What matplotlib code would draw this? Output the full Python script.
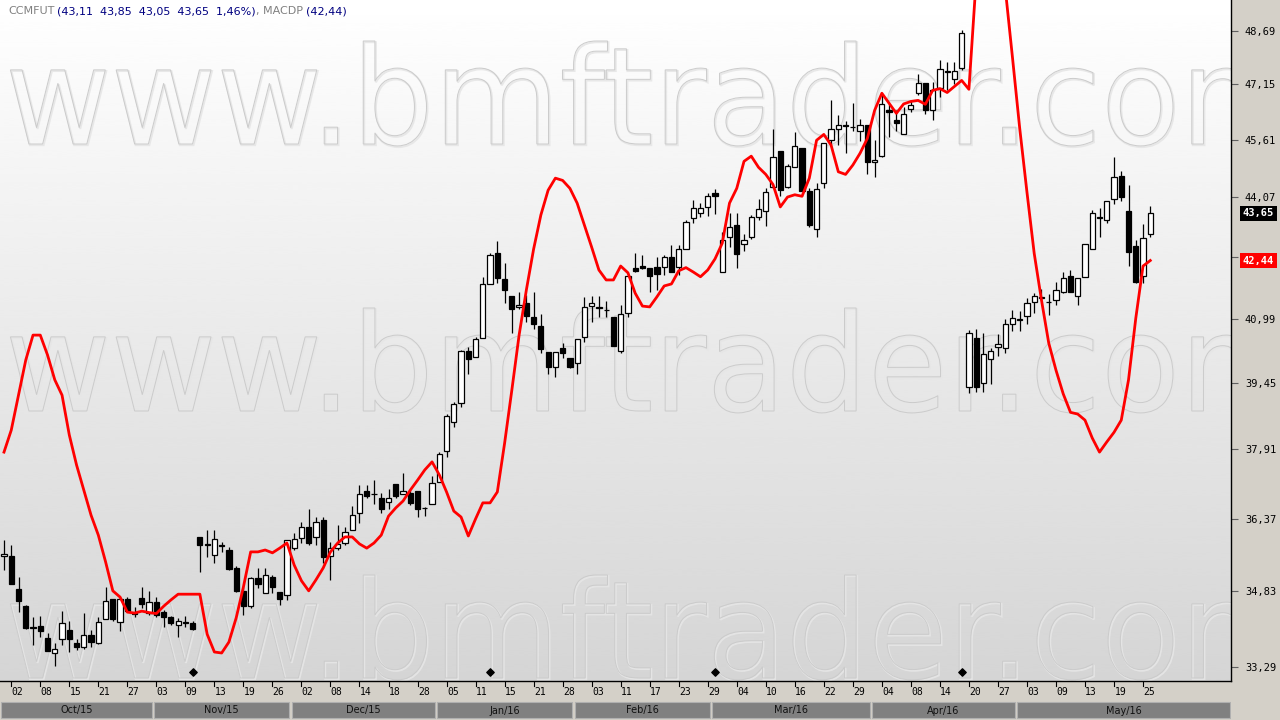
import numpy as np
import matplotlib
matplotlib.use('Agg')
import matplotlib.pyplot as plt
from matplotlib.patches import PathPatch, Rectangle
from matplotlib.textpath import TextPath
from matplotlib.font_manager import FontProperties
from matplotlib.transforms import Affine2D, blended_transform_factory
from matplotlib.ticker import NullLocator, NullFormatter

# ---- data (daily bars, Oct/15 .. May/16) ----
opens = [35.58, 35.57, 34.88, 34.52, 34.10, 34.11, 33.87, 33.56, 33.85, 34.04,
         33.77, 33.69, 33.93, 33.77, 34.26, 34.67, 34.19, 34.67, 34.38, 34.69,
         34.39, 34.61, 34.40, 34.30, 34.14, 34.19, 34.18, 35.97, 35.82, 35.59,
         35.80, 35.71, 35.31, 34.83, 34.52, 35.10, 34.79, 35.13, 34.82, 34.75,
         35.74, 35.95, 36.20, 35.97, 36.35, 35.58, 35.75, 35.84, 36.14, 36.49,
         36.98, 36.92, 36.82, 36.73, 37.13, 36.91, 36.93, 36.98, 36.61, 36.69,
         37.17, 37.87, 38.54, 38.97, 40.21, 40.06, 40.51, 41.85, 42.62, 41.98,
         41.55, 41.27, 41.37, 41.02, 40.82, 40.18, 39.83, 40.27, 40.04, 39.91,
         40.55, 41.29, 41.27, 41.21, 41.03, 40.21, 41.12, 42.24, 42.30, 42.24,
         42.27, 42.27, 42.52, 42.28, 42.74, 43.52, 43.65, 43.81, 44.19, 42.16,
         43.05, 43.35, 42.85, 43.04, 43.55, 43.71, 44.35, 45.30, 44.35, 44.87,
         45.40, 44.24, 43.24, 44.44, 45.62, 45.92, 46.03, 45.97, 45.85, 46.03,
         45.00, 45.17, 46.44, 46.15, 45.78, 46.47, 46.92, 47.19, 46.42, 47.05,
         47.53, 47.31, 47.62, 39.35, 40.51, 39.45, 40.01, 40.30, 40.27, 40.86,
         40.98, 41.05, 41.39, 41.52, 41.41, 41.44, 41.66, 42.04, 41.56, 42.03,
         42.74, 43.55, 43.48, 44.03, 44.63, 43.71, 42.80, 42.05, 43.11]
highs = [35.91, 35.80, 35.13, 34.54, 34.30, 34.32, 33.97, 33.77, 34.42, 34.21,
         33.85, 34.38, 34.03, 34.30, 34.92, 34.67, 34.71, 34.71, 34.51, 34.92,
         34.83, 34.72, 34.44, 34.31, 34.28, 34.32, 34.21, 35.97, 36.13, 36.13,
         35.87, 35.77, 35.36, 34.93, 35.12, 35.31, 35.31, 35.17, 34.82, 35.91,
         36.06, 36.31, 36.59, 36.41, 36.42, 35.88, 36.23, 36.19, 36.66, 37.11,
         37.11, 37.22, 36.93, 37.02, 37.13, 37.39, 37.00, 36.98, 36.62, 37.31,
         37.85, 38.73, 39.00, 40.23, 40.31, 40.55, 42.03, 42.62, 42.93, 42.37,
         41.55, 41.65, 41.58, 41.65, 41.10, 40.18, 40.18, 40.39, 40.04, 40.49,
         41.53, 41.55, 41.55, 41.43, 41.03, 41.32, 42.05, 42.64, 42.58, 42.24,
         42.53, 42.58, 42.83, 42.83, 43.48, 44.00, 43.93, 44.19, 44.28, 43.18,
         43.66, 43.67, 43.13, 43.61, 44.02, 44.33, 45.92, 45.30, 44.97, 45.83,
         45.40, 44.33, 44.44, 45.52, 46.70, 46.29, 46.12, 46.62, 46.17, 46.03,
         45.62, 46.84, 46.61, 46.44, 46.52, 46.70, 47.43, 47.19, 47.21, 47.83,
         47.78, 47.78, 48.70, 40.71, 40.75, 40.63, 40.27, 40.62, 40.98, 41.20,
         41.18, 41.50, 41.62, 41.72, 41.60, 41.91, 42.16, 42.20, 42.00, 42.87,
         43.74, 43.78, 43.98, 45.15, 44.77, 44.39, 42.96, 43.38, 43.85]
lows = [35.28, 34.99, 34.40, 34.05, 33.73, 33.89, 33.60, 33.31, 33.73, 33.58,
        33.64, 33.66, 33.70, 33.76, 34.25, 34.22, 34.02, 34.40, 34.30, 34.49,
        34.34, 34.30, 34.09, 34.13, 33.89, 34.09, 34.03, 35.24, 35.56, 35.43,
        35.66, 35.28, 34.82, 34.34, 34.48, 34.89, 34.79, 34.79, 34.55, 34.65,
        35.69, 35.84, 35.80, 35.80, 35.43, 35.07, 35.70, 35.80, 36.14, 36.28,
        36.83, 36.69, 36.49, 36.59, 36.82, 36.91, 36.68, 36.42, 36.44, 36.69,
        37.17, 37.75, 38.43, 38.89, 39.66, 40.06, 40.51, 41.85, 41.87, 41.37,
        40.64, 41.24, 40.92, 40.73, 40.15, 39.66, 39.58, 40.03, 39.79, 39.66,
        40.43, 40.90, 41.03, 41.02, 40.33, 40.15, 41.04, 42.16, 42.22, 41.66,
        41.70, 42.07, 42.16, 42.07, 42.74, 43.39, 43.55, 43.59, 43.63, 42.16,
        42.79, 42.26, 42.68, 42.98, 43.48, 43.32, 44.31, 44.10, 44.33, 44.87,
        44.24, 43.31, 43.05, 44.31, 45.50, 45.47, 45.26, 45.85, 45.58, 44.70,
        44.61, 45.15, 45.70, 45.85, 45.76, 46.38, 46.84, 46.31, 46.15, 46.79,
        46.98, 47.17, 47.55, 39.20, 39.24, 39.24, 39.43, 40.08, 40.15, 40.70,
        40.70, 40.86, 41.14, 41.44, 41.08, 41.32, 41.62, 41.66, 41.32, 42.03,
        42.72, 43.05, 43.41, 43.91, 43.98, 42.30, 41.87, 41.87, 43.05]
closes = [35.62, 34.99, 34.63, 34.07, 34.08, 34.01, 33.61, 33.66, 34.17, 33.85,
          33.70, 33.93, 33.80, 34.19, 34.63, 34.26, 34.67, 34.42, 34.37, 34.56,
          34.61, 34.34, 34.29, 34.17, 34.21, 34.18, 34.05, 35.80, 35.81, 35.93,
          35.79, 35.29, 34.83, 34.52, 35.10, 34.98, 35.17, 34.93, 34.67, 35.91,
          35.93, 36.20, 35.84, 36.30, 35.56, 35.74, 35.82, 36.08, 36.46, 36.92,
          36.88, 36.91, 36.59, 36.82, 36.86, 36.98, 36.72, 36.59, 36.60, 37.15,
          37.80, 38.67, 38.95, 40.21, 40.01, 40.49, 41.85, 42.57, 42.01, 41.71,
          41.23, 41.32, 41.05, 40.85, 40.25, 39.83, 40.18, 40.15, 39.83, 40.49,
          41.27, 41.37, 41.26, 41.20, 40.33, 41.10, 42.05, 42.18, 42.26, 42.06,
          42.11, 42.52, 42.16, 42.72, 43.44, 43.78, 43.78, 44.10, 44.11, 42.96,
          43.31, 42.61, 42.96, 43.57, 43.76, 44.20, 45.15, 44.26, 44.90, 45.44,
          44.24, 43.35, 44.28, 45.52, 45.92, 46.03, 45.98, 45.96, 46.03, 45.02,
          45.06, 46.59, 46.37, 46.06, 46.33, 46.58, 47.19, 46.44, 46.98, 47.59,
          47.51, 47.53, 48.62, 40.65, 39.36, 40.13, 40.21, 40.37, 40.87, 41.00,
          40.97, 41.37, 41.55, 41.51, 41.40, 41.70, 42.00, 41.66, 42.00, 42.87,
          43.65, 43.54, 43.98, 44.61, 44.09, 42.66, 41.90, 43.02, 43.65]
macdp = [37.85, 38.35, 39.16, 39.99, 40.59, 40.59, 40.11, 39.52, 39.16, 38.24,
         37.56, 37.00, 36.45, 36.02, 35.45, 34.84, 34.71, 34.40, 34.38, 34.42,
         34.39, 34.37, 34.52, 34.65, 34.77, 34.77, 34.77, 34.77, 33.95, 33.59,
         33.57, 33.79, 34.28, 34.92, 35.66, 35.66, 35.70, 35.64, 35.74, 35.85,
         35.38, 35.05, 34.84, 35.07, 35.32, 35.66, 35.85, 35.98, 35.98, 35.83,
         35.74, 35.85, 36.02, 36.43, 36.61, 36.76, 37.00, 37.22, 37.45, 37.63,
         37.34, 36.96, 36.54, 36.41, 36.00, 36.37, 36.72, 36.72, 36.96, 38.05,
         39.28, 40.59, 41.70, 42.73, 43.61, 44.26, 44.58, 44.52, 44.31, 43.92,
         43.35, 42.78, 42.20, 41.95, 41.95, 42.30, 42.13, 41.62, 41.30, 41.28,
         41.53, 41.80, 41.85, 42.18, 42.26, 42.15, 42.03, 42.20, 42.48, 42.88,
         43.92, 44.31, 45.03, 45.17, 44.87, 44.68, 44.41, 43.82, 44.08, 44.14,
         44.10, 44.58, 45.60, 45.76, 45.47, 44.75, 44.68, 44.93, 45.25, 45.65,
         46.42, 46.90, 46.62, 46.34, 46.60, 46.67, 46.70, 46.59, 46.98, 47.03,
         46.92, 47.09, 47.26, 47.01, 50.20, 51.50, 51.90, 51.20, 49.95, 47.92,
         45.93, 44.21, 42.62, 41.45, 40.40, 39.75, 39.19, 38.76, 38.72, 38.58,
         38.17, 37.85, 38.08, 38.30, 38.58, 39.52, 41.00, 42.30, 42.44]

day_labels = ['02', '08', '15', '21', '27', '03', '09', '13', '19', '26',
              '02', '08', '14', '18', '28', '05', '11', '15', '21', '28',
              '03', '11', '17', '23', '29', '04', '10', '16', '22', '29',
              '04', '08', '14', '20', '27', '03', '09', '13', '19', '25']
month_names = ['Oct/15', 'Nov/15', 'Dec/15', 'Jan/16', 'Feb/16', 'Mar/16', 'Apr/16', 'May/16']
month_start = [0, 21, 40, 60, 79, 98, 120, 140]   # first bar of each month
marker_bars = [26, 67, 98, 132]                    # black diamonds
y_ticks = [33.29, 34.83, 36.37, 37.91, 39.45, 40.99, 42.53, 44.07, 45.61, 47.15, 48.69]


def br(v):
    return f'{v:.2f}'.replace('.', ',')


W, H = 1280, 720
PLOT_R, PLOT_B = 1231, 681
X0, DX = 4.0, 7.255
xmin = (0 - X0) / DX
xmax = (PLOT_R - X0) / DX
PANEL = '#d4d0c8'

fig = plt.figure(figsize=(W / 100, H / 100), dpi=100)
fig.patch.set_facecolor(PANEL)
rect = [0, 1 - PLOT_B / H, PLOT_R / W, PLOT_B / H]

# background: gradient + watermark, in pixel coords
bg = fig.add_axes(rect, zorder=0)
grad = np.linspace(1.0, 0.835, 256)[:, None]
bg.imshow(grad, cmap='gray', vmin=0, vmax=1, extent=[0, PLOT_R, PLOT_B, 0],
          aspect='auto', interpolation='bicubic')
bg.set_xlim(0, PLOT_R)
bg.set_ylim(PLOT_B, 0)
bg.axis('off')

fp = FontProperties(family='DejaVu Sans')
tp = TextPath((0, 0), 'www.bmftrader.com', size=100, prop=fp)
v = tp.vertices
wx0, wx1 = v[:, 0].min(), v[:, 0].max()
sx = 1290 / (wx1 - wx0)
sy = 103 / v[:, 1].max()
for base in (144, 411, 678):
    tr = Affine2D().translate(-wx0, 0).scale(sx, -sy).translate(6, base + 1.2)
    bg.add_patch(PathPatch(tr.transform_path(tp), facecolor='none',
                           edgecolor='#e6e6e6', lw=1.4, alpha=0.9, transform=bg.transData))
    tr2 = Affine2D().translate(-wx0, 0).scale(sx, -sy).translate(5, base)
    bg.add_patch(PathPatch(tr2.transform_path(tp), facecolor='none',
                           edgecolor='#cbcbcb', lw=0.7, transform=bg.transData))

# main price axes
ax = fig.add_axes(rect, zorder=1)
ax.patch.set_alpha(0)
ax.set_yscale('log')

o = np.array(opens)
h = np.array(highs)
l = np.array(lows)
c = np.array(closes)
idx = np.arange(len(o))
up = c >= o

ax.vlines(idx, l, h, color='black', lw=0.9, zorder=2)
ax.bar(idx[up], np.maximum(c - o, 0.004)[up], bottom=o[up], width=0.72,
       facecolor='white', edgecolor='black', lw=0.9, zorder=3)
ax.bar(idx[~up], (o - c)[~up], bottom=c[~up], width=0.72,
       facecolor='black', edgecolor='black', lw=0.9, zorder=3)

ax.plot(idx, macdp, color='#ff0000', lw=2.0, zorder=4)

ax.scatter(marker_bars, [0.013] * len(marker_bars), marker='D', s=14, color='black',
           transform=blended_transform_factory(ax.transData, ax.transAxes), zorder=5,
           clip_on=False)

ax.set_xlim(xmin, xmax)
ax.set_ylim(33.013, 49.586)
ax.set_xticks([])

for s in ('top', 'left'):
    ax.spines[s].set_visible(False)
for s in ('right', 'bottom'):
    ax.spines[s].set_color('black')
    ax.spines[s].set_linewidth(1.0)

ax.yaxis.tick_right()
ax.set_yticks(y_ticks)
ax.set_yticklabels([br(t) for t in y_ticks])
ax.yaxis.set_minor_locator(NullLocator())
ax.yaxis.set_minor_formatter(NullFormatter())
ax.tick_params(axis='y', direction='out', length=5, width=0.8, color='#606060',
               pad=5, labelsize=7.5)
for t in ax.get_yticklabels():
    t.set_family('DejaVu Sans Mono')

# last value tags (drawn over the tick labels, as in the original)
bt = blended_transform_factory(ax.transAxes, ax.transData)
for val, col in ((closes[-1], 'black'), (macdp[-1], '#ff0000')):
    ax.text(1243 / PLOT_R, val, br(val), transform=bt, ha='left', va='center',
            color='white', fontsize=7.5, weight='bold', family='DejaVu Sans Mono',
            zorder=10, clip_on=False,
            bbox=dict(boxstyle='square,pad=0.25', fc=col, ec='none'))

# bottom strip: day ticks and month bar (y in pixel rows)
bx = fig.add_axes([0, 0, PLOT_R / W, 1 - PLOT_B / H], zorder=1)
bx.set_xlim(xmin, xmax)
bx.set_ylim(H, PLOT_B)
bx.axis('off')
ticks = np.arange(1, len(o), 4)[:len(day_labels)]
for t, lab in zip(ticks, day_labels):
    bx.plot([t, t], [PLOT_B, PLOT_B + 4.5], color='black', lw=0.8)
    bx.text(t + 0.05, 692, lab, ha='left', va='center', fontsize=7,
            family='DejaVu Sans Mono', color='black')
edges = [xmin] + [m - 0.5 for m in month_start[1:]] + [xmax]
for i, name in enumerate(month_names):
    a, b = edges[i], edges[i + 1]
    bx.add_patch(Rectangle((a + 0.15, 702), b - a - 0.3, 16, facecolor='#808080',
                           edgecolor='#b0b0b0', lw=0.8))
    bx.text((a + b) / 2, 710.5, name, ha='center', va='center', fontsize=7,
            color='#111111')

# header
chg = (closes[-1] / closes[-2] - 1) * 100
pieces = [('CCMFUT', '#808080'),
          (f'({br(opens[-1])}  {br(highs[-1])}  {br(lows[-1])}  {br(closes[-1])}  {br(chg)}%)', '#000080'),
          (', MACDP', '#808080'),
          (f'({br(macdp[-1])})', '#000080')]
renderer = fig.canvas.get_renderer()
xpix = 8
gaps = [3, 0, 3, 0]
for (s, col), g in zip(pieces, gaps):
    t = fig.text(xpix / W, 1 - 11 / H, s, color=col, fontsize=8, ha='left', va='center')
    xpix += t.get_window_extent(renderer).width + g

fig.savefig('out.png', dpi=100, facecolor=PANEL)
